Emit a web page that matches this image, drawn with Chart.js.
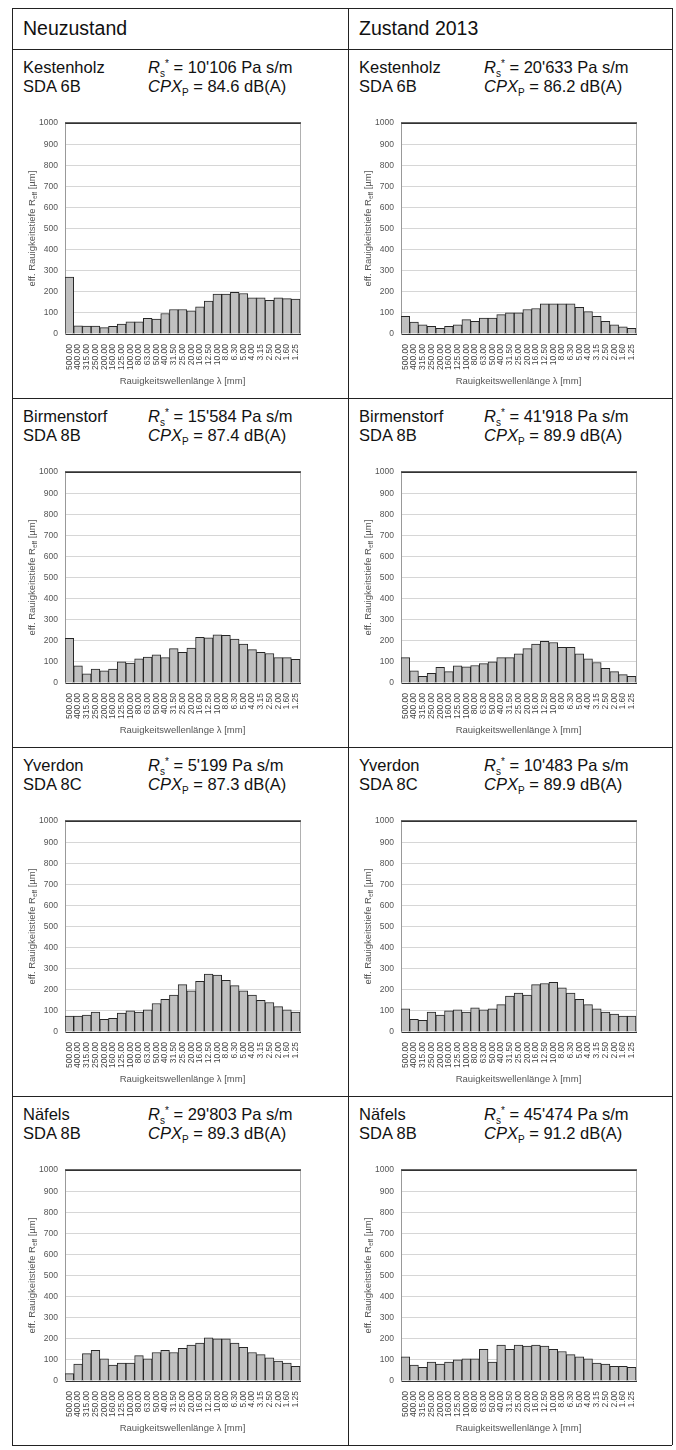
<!DOCTYPE html>
<html><head><meta charset="utf-8">
<script src="https://cdn.jsdelivr.net/npm/chart.js@4.4.1/dist/chart.umd.min.js"></script>
<style>
body{margin:0;background:#fff;font-family:"Liberation Sans",Arial,sans-serif;color:#111;}
#page{position:relative;width:676px;height:1450px;overflow:hidden;}
.hl{position:absolute;height:0;border-top:1.5px solid #222;}
.vl{position:absolute;width:0;border-left:1.5px solid #222;}
.hdr{position:absolute;font-size:19.5px;line-height:22px;white-space:nowrap;}
.info{position:absolute;font-size:16.5px;line-height:19px;white-space:nowrap;}
.info .v{position:absolute;left:125px;top:0;}
.cw{position:absolute;width:290px;height:284px;}
sub,sup{font-size:10px;line-height:0;}
</style></head><body>
<div id="page"></div>
<script>
// ---- data ----
const wavelengths = ["500.00","400.00","315.00","250.00","200.00","160.00","125.00","100.00","80.00","63.00","50.00","40.00","31.50","25.00","20.00","16.00","12.50","10.00","8.00","6.30","5.00","4.00","3.15","2.50","2.00","1.60","1.25"];
const yTicks = [0,100,200,300,400,500,600,700,800,900,1000];
const columnTitles = ["Neuzustand","Zustand 2013"];
const sites = ["Kestenholz","Birmenstorf","Yverdon","Näfels"];
const surfaces = ["SDA 6B","SDA 8B","SDA 8C","SDA 8B"];
const rsNeu = ["10'106","15'584","5'199","29'803"];
const rs2013 = ["20'633","41'918","10'483","45'474"];
const cpxNeu = ["84.6","87.4","87.3","89.3"];
const cpx2013 = ["86.2","89.9","89.9","91.2"];

const kestenholzNeu  = [270,39,37,37,30,36,47,58,58,74,71,97,116,116,110,129,156,189,189,197,192,172,172,160,171,168,166];
const kestenholz2013 = [84,56,44,36,27,36,44,68,60,76,76,92,100,100,116,121,143,143,143,143,127,106,84,60,44,34,27];
const birmenstorfNeu = [212,82,43,66,58,66,100,95,115,123,134,120,163,145,166,217,214,228,226,208,185,158,145,140,120,120,112];
const birmenstorf2013= [120,58,32,46,74,54,82,77,83,92,100,120,120,138,163,185,198,192,169,169,138,115,97,69,54,40,32];
const yverdonNeu     = [75,75,80,95,60,65,90,100,95,105,135,155,175,225,195,240,275,270,245,220,195,175,150,140,120,105,95];
const yverdon2013    = [110,60,55,95,80,100,105,95,115,105,110,130,170,185,175,225,230,235,210,185,155,130,110,95,85,75,75];
const naefelsNeu     = [35,80,130,145,105,75,85,85,120,105,135,145,135,155,170,180,205,200,200,180,160,135,125,110,95,85,70];
const naefels2013    = [115,75,65,90,80,90,100,105,105,150,90,170,150,170,165,170,165,150,140,125,115,105,85,80,70,70,65];

const seriesNeu  = [kestenholzNeu, birmenstorfNeu, yverdonNeu, naefelsNeu];
const series2013 = [kestenholz2013, birmenstorf2013, yverdon2013, naefels2013];

// ---- layout ----
const page = document.getElementById('page');
const colX = [12, 348];
const rightEdge = 672;
const headTop = 8, headBottom = 49, rowH = 349;
function add(html){ page.insertAdjacentHTML('beforeend', html); }

add(`<div class="hl" style="left:${colX[0]}px;top:${headTop}px;width:${rightEdge-colX[0]}px"></div>`);
add(`<div class="hl" style="left:${colX[0]}px;top:${headBottom}px;width:${rightEdge-colX[0]}px"></div>`);
for(let r=1;r<=4;r++) add(`<div class="hl" style="left:${colX[0]}px;top:${headBottom+r*rowH}px;width:${rightEdge-colX[0]}px"></div>`);
const tableBottom = headBottom+4*rowH;
[colX[0], colX[1], rightEdge].forEach(x=>add(`<div class="vl" style="left:${x}px;top:${headTop}px;height:${tableBottom-headTop}px"></div>`));

columnTitles.forEach((t,c)=>add(`<div class="hdr" style="left:${colX[c]+11}px;top:${headTop+9}px">${t}</div>`));

const FAM = '"Liberation Sans", Arial, sans-serif';
const yTitlePlugin = {
  id:'yTitle',
  afterDraw(chart){
    const ctx = chart.ctx, a = chart.chartArea;
    ctx.save();
    ctx.translate(a.left-33, (a.top+a.bottom)/2);
    ctx.rotate(-Math.PI/2);
    ctx.fillStyle = '#555';
    const f1 = '9.5px ' + FAM;
    const f2 = '6.5px ' + FAM;
    const p1 = 'eff. Rauigkeitstiefe R', p2 = 'eff', p3 = ' [µm]';
    ctx.font = f1; const w1 = ctx.measureText(p1).width, w3 = ctx.measureText(p3).width;
    ctx.font = f2; const w2 = ctx.measureText(p2).width;
    let x = -(w1+w2+w3)/2;
    ctx.textBaseline = 'middle';
    ctx.font = f1; ctx.fillText(p1, x, 0); x += w1;
    ctx.font = f2; ctx.fillText(p2, x, 3); x += w2;
    ctx.font = f1; ctx.fillText(p3, x, 0);
    ctx.restore();
  }
};
const framePlugin = {
  id:'frame',
  beforeDatasetsDraw(chart){
    const ctx = chart.ctx, a = chart.chartArea;
    ctx.save();
    ctx.strokeStyle = '#b0b0b0'; ctx.lineWidth = 1;
    ctx.beginPath(); ctx.moveTo(a.right+0.5, a.top); ctx.lineTo(a.right+0.5, a.bottom); ctx.stroke();
    ctx.restore();
  },
  afterDatasetsDraw(chart){
    const ctx = chart.ctx, a = chart.chartArea;
    ctx.save();
    ctx.strokeStyle = '#333'; ctx.lineWidth = 1.5;
    ctx.beginPath(); ctx.moveTo(a.left, a.top); ctx.lineTo(a.right+1, a.top); ctx.stroke();
    ctx.restore();
  }
};

function makeChart(canvas, values){
  return new Chart(canvas, {
    type:'bar',
    data:{ labels: wavelengths, datasets:[{ data: values, backgroundColor:'#c0c0c0', borderColor:'#262626', borderWidth:1, categoryPercentage:1, barPercentage:1 }]},
    options:{
      responsive:false, animation:false, devicePixelRatio:1,
      layout:{ padding:{ left:0, right:16, top:12, bottom:0 } },
      plugins:{ legend:{display:false}, tooltip:{enabled:false} },
      scales:{
        x:{
          grid:{ display:false },
          border:{ color:'#333', width:1 },
          ticks:{ autoSkip:false, minRotation:90, maxRotation:90, padding:2, color:'#444', font:{ size:8.5, family:FAM } },
          title:{ display:true, text:'Rauigkeitswellenlänge λ [mm]', color:'#555', font:{ size:9.5, family:FAM }, padding:{ top:2, bottom:8 } },
          afterFit(s){ s.height = 61; }
        },
        y:{
          min:0, max:1000,
          afterBuildTicks(s){ const t=[]; for(let v=0; v<=1000; v+=50) t.push({value:v}); s.ticks = t; },
          grid:{ color:(c)=> c.tick && c.tick.value===1000 ? '#333' : '#d6d6d6', drawTicks:false, lineWidth:1 },
          border:{ color:'#999', width:1 },
          ticks:{ padding:7, color:'#555', font:{ size:8.5, family:FAM },
                  callback:(v)=> yTicks.includes(v) ? String(v) : '' },
          afterFit(s){ s.width = 39; }
        }
      }
    },
    plugins:[framePlugin, yTitlePlugin]
  });
}

for(let r=0;r<4;r++){
  const T = headBottom + r*rowH;
  for(let c=0;c<2;c++){
    const L = colX[c];
    const rs = c===0 ? rsNeu[r] : rs2013[r];
    const cpx = c===0 ? cpxNeu[r] : cpx2013[r];
    add(`<div class="info" style="left:${L+11}px;top:${T+9}px">${sites[r]}<span class="v"><i>R</i><sub>s</sub><sup>*</sup>&nbsp;= ${rs} Pa s/m</span></div>`);
    add(`<div class="info" style="left:${L+11}px;top:${T+28}px">${surfaces[r]}<span class="v"><i>CPX</i><sub>P</sub> = ${cpx} dB(A)</span></div>`);
    const id = `c${r}_${c}`;
    add(`<div class="cw" style="left:${L+14}px;top:${T+62}px"><canvas id="${id}" width="290" height="284"></canvas></div>`);
    makeChart(document.getElementById(id), c===0 ? seriesNeu[r] : series2013[r]);
  }
}
</script>
</body></html>
